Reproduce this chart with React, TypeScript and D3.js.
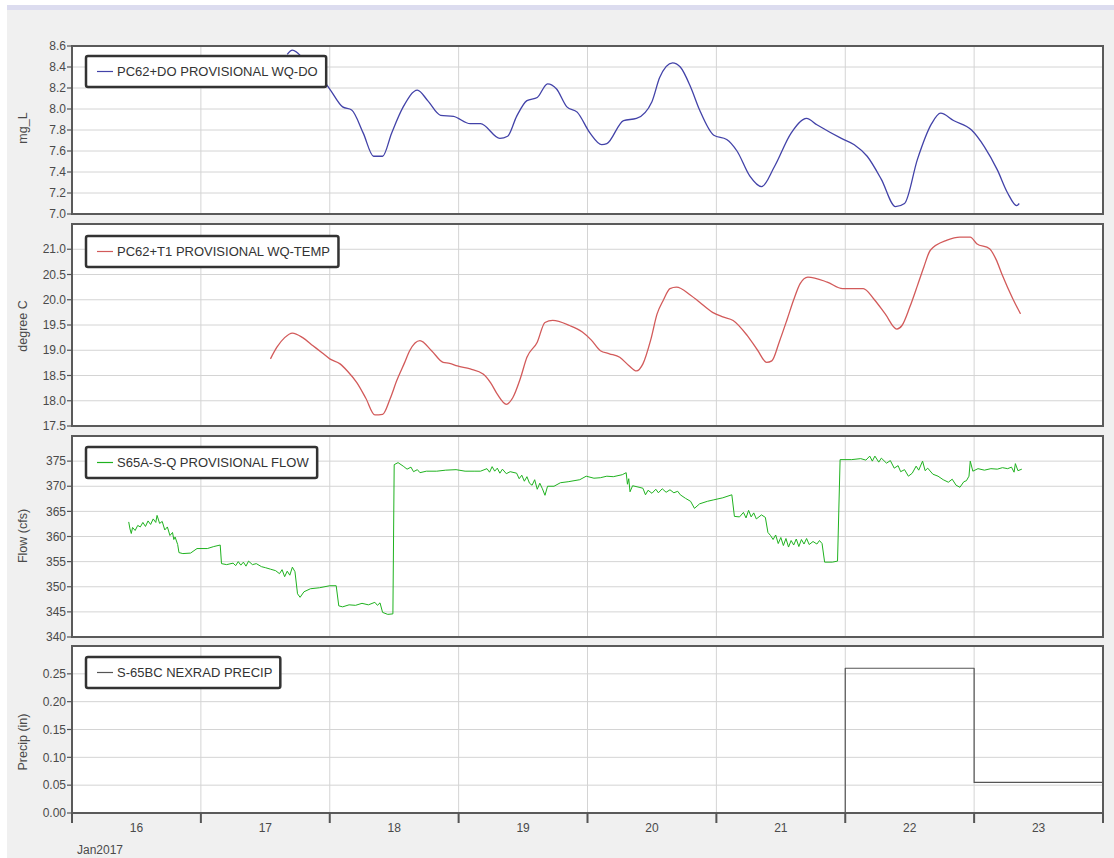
import * as d3 from "d3";

// time is given in fractional days of January 2017 (16.5 = Jan 16, noon)
const doSeries: [number, number][] = [
  [17.67, 8.52], [17.71, 8.56], [17.81, 8.46], [17.92, 8.32], [18.0, 8.19], [18.1, 8.02], [18.17, 7.99],
  [18.26, 7.77], [18.34, 7.55], [18.41, 7.55], [18.48, 7.77], [18.57, 8.02], [18.68, 8.18], [18.76, 8.08],
  [18.86, 7.94], [18.96, 7.93], [19.09, 7.86], [19.17, 7.86], [19.32, 7.72], [19.38, 7.74], [19.45, 7.93],
  [19.53, 8.08], [19.61, 8.11], [19.69, 8.24], [19.76, 8.19], [19.84, 8.02], [19.92, 7.97], [20.02, 7.77],
  [20.11, 7.66], [20.15, 7.67], [20.28, 7.89], [20.38, 7.91], [20.5, 8.07], [20.56, 8.3], [20.66, 8.44],
  [20.72, 8.4], [20.8, 8.21], [20.87, 7.99], [20.98, 7.75], [21.08, 7.71], [21.16, 7.6], [21.26, 7.36],
  [21.35, 7.26], [21.45, 7.45], [21.58, 7.77], [21.7, 7.91], [21.78, 7.85], [21.97, 7.72], [22.07, 7.66],
  [22.17, 7.55], [22.28, 7.33], [22.39, 7.07], [22.46, 7.1], [22.56, 7.52], [22.67, 7.86], [22.74, 7.96],
  [22.84, 7.89], [22.98, 7.8], [23.08, 7.64], [23.18, 7.42], [23.26, 7.2], [23.33, 7.08], [23.35, 7.1],
];

const tempSeries: [number, number][] = [
  [17.54, 18.83], [17.59, 19.06], [17.65, 19.25], [17.71, 19.34], [17.79, 19.25], [17.87, 19.09],
  [17.94, 18.95], [18.0, 18.83], [18.08, 18.73], [18.14, 18.58], [18.21, 18.36], [18.28, 18.05],
  [18.35, 17.72], [18.41, 17.73], [18.47, 18.05], [18.52, 18.4], [18.58, 18.75], [18.62, 18.99],
  [18.7, 19.19], [18.79, 18.99], [18.88, 18.76], [18.93, 18.74], [18.99, 18.69], [19.09, 18.63],
  [19.19, 18.53], [19.25, 18.35], [19.3, 18.13], [19.37, 17.93], [19.42, 18.06], [19.48, 18.45],
  [19.53, 18.86], [19.61, 19.16], [19.67, 19.55], [19.73, 19.59], [19.86, 19.49], [19.96, 19.36],
  [20.03, 19.2], [20.1, 18.99], [20.17, 18.93], [20.25, 18.86], [20.32, 18.7], [20.38, 18.59],
  [20.43, 18.73], [20.49, 19.2], [20.54, 19.72], [20.59, 20.0], [20.64, 20.22], [20.69, 20.25],
  [20.8, 20.09], [20.87, 19.95], [20.97, 19.75], [21.05, 19.66], [21.13, 19.59], [21.24, 19.29],
  [21.32, 19.0], [21.39, 18.76], [21.43, 18.79], [21.49, 19.18], [21.55, 19.62], [21.6, 20.0],
  [21.65, 20.32], [21.71, 20.45], [21.86, 20.35], [21.98, 20.22], [22.06, 20.22], [22.14, 20.22],
  [22.22, 20.02], [22.31, 19.72], [22.4, 19.42], [22.44, 19.49], [22.5, 19.85], [22.56, 20.28],
  [22.61, 20.65], [22.66, 20.98], [22.79, 21.18], [22.89, 21.24], [22.97, 21.24], [23.02, 21.11],
  [23.12, 21.01], [23.17, 20.8], [23.22, 20.48], [23.3, 20.02], [23.36, 19.72],
];

const flowSeries: [number, number][] = [
  [16.44, 362.9], [16.45, 361.5], [16.46, 360.6], [16.47, 361.8], [16.49, 361.2], [16.51, 362.2],
  [16.53, 361.9], [16.55, 362.8], [16.57, 362.0], [16.59, 363.1], [16.61, 362.4], [16.63, 363.5],
  [16.65, 362.8], [16.66, 364.2], [16.68, 362.6], [16.7, 363.0], [16.72, 361.3], [16.74, 361.9],
  [16.76, 360.2], [16.78, 360.8], [16.79, 359.4], [16.8, 359.9], [16.82, 358.4], [16.83, 356.8],
  [16.86, 356.6], [16.92, 356.7], [16.97, 357.6], [17.05, 357.6], [17.1, 358.0], [17.15, 358.3],
  [17.16, 354.6], [17.2, 354.4], [17.25, 354.7], [17.27, 354.2], [17.29, 355.0], [17.31, 354.3],
  [17.33, 354.9], [17.35, 354.1], [17.37, 355.1], [17.4, 354.4], [17.43, 354.6], [17.47, 354.0],
  [17.5, 353.8], [17.54, 353.5], [17.58, 353.2], [17.61, 352.6], [17.63, 353.4], [17.65, 352.0],
  [17.67, 353.1], [17.69, 352.3], [17.71, 353.9], [17.73, 353.0], [17.75, 348.6], [17.77, 347.9],
  [17.8, 349.0], [17.85, 349.6], [17.92, 349.8], [18.0, 350.2], [18.05, 350.2], [18.07, 346.2],
  [18.1, 346.0], [18.15, 346.4], [18.2, 346.3], [18.25, 346.7], [18.3, 346.4], [18.35, 346.9],
  [18.37, 346.3], [18.39, 346.8], [18.41, 344.9], [18.45, 344.5], [18.49, 344.6], [18.5, 374.3],
  [18.53, 374.7], [18.57, 374.0], [18.6, 373.4], [18.63, 373.8], [18.65, 372.9], [18.68, 373.3],
  [18.7, 372.7], [18.75, 373.0], [18.83, 373.0], [18.9, 373.2], [18.98, 373.3], [19.05, 373.0],
  [19.12, 373.0], [19.17, 373.0], [19.22, 373.5], [19.24, 372.8], [19.26, 373.9], [19.28, 373.0],
  [19.3, 373.6], [19.32, 372.6], [19.34, 373.4], [19.37, 372.5], [19.4, 372.9], [19.45, 372.6],
  [19.47, 371.5], [19.49, 372.2], [19.51, 371.0], [19.53, 371.9], [19.55, 370.6], [19.57, 370.2],
  [19.59, 371.3], [19.61, 369.4], [19.63, 370.6], [19.65, 369.5], [19.67, 368.2], [19.69, 370.0],
  [19.74, 370.0], [19.79, 370.7], [19.85, 370.9], [19.94, 371.3], [19.99, 372.0], [20.05, 371.6],
  [20.1, 371.7], [20.15, 372.0], [20.2, 371.9], [20.27, 372.3], [20.3, 372.7], [20.31, 370.4],
  [20.32, 371.5], [20.33, 368.9], [20.35, 370.1], [20.4, 369.8], [20.43, 369.6], [20.45, 368.3],
  [20.47, 369.2], [20.5, 368.6], [20.53, 369.4], [20.55, 368.7], [20.58, 369.5], [20.61, 368.8],
  [20.64, 369.3], [20.67, 368.7], [20.7, 369.0], [20.72, 368.3], [20.76, 367.6], [20.8, 367.0],
  [20.83, 365.6], [20.87, 366.5], [20.93, 367.0], [20.98, 367.3], [21.05, 367.7], [21.12, 368.3],
  [21.14, 364.0], [21.18, 363.9], [21.21, 364.8], [21.23, 363.7], [21.25, 365.2], [21.27, 363.9],
  [21.29, 364.7], [21.31, 363.5], [21.35, 364.3], [21.38, 363.8], [21.4, 360.8], [21.42, 360.2],
  [21.44, 359.4], [21.46, 360.3], [21.48, 358.6], [21.5, 359.8], [21.52, 358.2], [21.54, 359.6],
  [21.56, 357.9], [21.58, 359.2], [21.6, 358.3], [21.62, 359.5], [21.64, 358.0], [21.66, 359.4],
  [21.68, 358.5], [21.7, 359.6], [21.72, 358.4], [21.75, 359.0], [21.78, 358.5], [21.8, 359.2],
  [21.82, 358.6], [21.84, 354.9], [21.9, 354.9], [21.94, 355.1], [21.96, 375.3], [22.05, 375.3],
  [22.12, 375.5], [22.16, 375.2], [22.19, 376.0], [22.21, 375.0], [22.23, 376.0], [22.26, 374.8],
  [22.28, 375.6], [22.32, 374.6], [22.35, 375.1], [22.38, 373.6], [22.41, 374.1], [22.43, 372.9],
  [22.46, 373.3], [22.49, 372.0], [22.52, 372.6], [22.55, 374.0], [22.57, 373.2], [22.6, 375.0],
  [22.62, 373.1], [22.64, 373.6], [22.68, 372.4], [22.72, 372.0], [22.76, 371.3], [22.8, 370.8],
  [22.83, 371.4], [22.86, 370.2], [22.89, 369.8], [22.92, 370.9], [22.94, 371.1], [22.96, 372.0],
  [22.97, 375.0], [22.99, 373.0], [23.03, 373.5], [23.08, 373.2], [23.13, 373.5], [23.18, 373.4],
  [23.22, 373.7], [23.26, 373.5], [23.29, 373.8], [23.31, 372.8], [23.32, 374.5], [23.34, 373.1],
  [23.37, 373.4],
];

// daily NEXRAD totals (inches), step held until next day
const precipDays = [16, 17, 18, 19, 20, 21, 22, 23, 24];
const precipValues = [0, 0, 0, 0, 0, 0, 0.26, 0.055, 0.055];

const doTicks = [7.0, 7.2, 7.4, 7.6, 7.8, 8.0, 8.2, 8.4, 8.6];
const tempTicks = [17.5, 18.0, 18.5, 19.0, 19.5, 20.0, 20.5, 21.0];
const flowTicks = [340, 345, 350, 355, 360, 365, 370, 375];
const precipTicks = [0, 0.05, 0.1, 0.15, 0.2, 0.25];

const W = 1114;
const H = 858;
const left = 72;
const right = 1103;
const FONT = "'Liberation Sans', Arial, sans-serif";

const dayToDate = (d: number) => new Date(Date.UTC(2017, 0, 16) + (d - 16) * 864e5);

const measure = (s: string, size: number) => {
  const ctx = document.createElement("canvas").getContext("2d");
  if (!ctx) return s.length * size * 0.6;
  ctx.font = `${size}px ${FONT}`;
  return ctx.measureText(s).width;
};

const panels = [
  { title: "mg_L", titleY: 128, top: 46, bottom: 214, domain: [7.0, 8.6], ticks: doTicks, fmt: d3.format(".1f"),
    legend: "PC62+DO PROVISIONAL WQ-DO", legendTop: 56, color: "#4242a8", width: 1.3,
    data: doSeries.map((p) => ({ t: p[0], v: p[1] })), curve: d3.curveMonotoneX },
  { title: "degree C", titleY: 326, top: 224, bottom: 426, domain: [17.5, 21.5], ticks: tempTicks, fmt: d3.format(".1f"),
    legend: "PC62+T1 PROVISIONAL WQ-TEMP", legendTop: 236, color: "#d25a5a", width: 1.3,
    data: tempSeries.map((p) => ({ t: p[0], v: p[1] })), curve: d3.curveMonotoneX },
  { title: "Flow (cfs)", titleY: 536, top: 436, bottom: 637, domain: [340, 380], ticks: flowTicks, fmt: d3.format("d"),
    legend: "S65A-S-Q PROVISIONAL FLOW", legendTop: 447, color: "#1fb21f", width: 1,
    data: flowSeries.map((p) => ({ t: p[0], v: p[1] })), curve: d3.curveLinear },
  { title: "Precip (in)", titleY: 742, top: 646, bottom: 813, domain: [0, 0.3], ticks: precipTicks, fmt: d3.format(".2f"),
    legend: "S-65BC NEXRAD PRECIP", legendTop: 657, color: "#555555", width: 1.2,
    data: precipDays.map((d, i) => ({ t: d, v: precipValues[i] })), curve: d3.curveStepAfter },
];

export default function App() {
  const x = d3.scaleUtc().domain([dayToDate(16), dayToDate(24)]).range([left, right]);
  const dayTicks = d3.utcDay.range(dayToDate(16), dayToDate(24.5));
  const dayLabels = d3.range(16, 24).map((d) => dayToDate(d + 0.5));
  const fmtDay = d3.utcFormat("%-d");

  return (
    <svg width={W} height={H} style={{ position: "absolute", left: 0, top: 0, fontFamily: FONT }}>
      <rect x={0} y={0} width={W} height={H} fill="#ffffff" />
      <rect x={7} y={5} width={W - 7} height={5} fill="#dcdcef" />
      <rect x={7} y={10} width={W - 7} height={H - 10} fill="#f0f0f0" />

      {panels.map((p, pi) => {
        const y = d3.scaleLinear().domain(p.domain).range([p.bottom, p.top]);
        const line = d3
          .line<{ t: number; v: number }>()
          .x((d) => x(dayToDate(d.t)))
          .y((d) => y(d.v))
          .curve(p.curve);
        const tw = measure(p.legend, 13);
        const lx = 86;
        return (
          <g key={pi}>
            <rect x={left} y={p.top} width={right - left} height={p.bottom - p.top} fill="#ffffff" />
            {p.ticks.map((t) => (
              <line key={"h" + t} x1={left} x2={right} y1={y(t)} y2={y(t)} stroke="#d4d4d4" strokeWidth={1} />
            ))}
            {dayTicks.slice(1, -1).map((d, i) => (
              <line key={"v" + i} x1={x(d)} x2={x(d)} y1={p.top} y2={p.bottom} stroke="#d4d4d4" strokeWidth={1} />
            ))}
            <g clipPath={`url(#clip${pi})`}>
              <clipPath id={`clip${pi}`}>
                <rect x={left} y={p.top} width={right - left} height={p.bottom - p.top} />
              </clipPath>
              <path d={line(p.data) ?? ""} fill="none" stroke={p.color} strokeWidth={p.width} strokeLinejoin="round" />
            </g>
            <rect x={left} y={p.top} width={right - left} height={p.bottom - p.top} fill="none" stroke="#5a5a5a" strokeWidth={2} />
            {p.ticks.map((t) => (
              <g key={"t" + t}>
                <line x1={left - 5} x2={left} y1={y(t)} y2={y(t)} stroke="#555" strokeWidth={1.2} />
                <text x={left - 6} y={y(t)} dy="0.35em" textAnchor="end" fontSize={12} fill="#4a4a4a">
                  {p.fmt(t)}
                </text>
              </g>
            ))}
            <text
              transform={`translate(27,${p.titleY}) rotate(-90)`}
              textAnchor="middle"
              fontSize={12.5}
              fill="#4a4a4a"
            >
              {p.title}
            </text>
            <rect x={lx} y={p.legendTop} width={tw + 39} height={31} rx={2} fill="#ffffff" stroke="#333333" strokeWidth={2.5} />
            <line x1={lx + 11} x2={lx + 27} y1={p.legendTop + 15.5} y2={p.legendTop + 15.5} stroke={p.color} strokeWidth={1.2} />
            <text x={lx + 31} y={p.legendTop + 15.5} dy="0.35em" fontSize={13} fill="#333333">
              {p.legend}
            </text>
          </g>
        );
      })}

      {dayTicks.map((d, i) => (
        <line key={"xt" + i} x1={x(d)} x2={x(d)} y1={813} y2={823} stroke="#555" strokeWidth={2} />
      ))}
      {dayLabels.map((d, i) => (
        <text key={"xl" + i} x={x(d)} y={832} textAnchor="middle" fontSize={12} fill="#4a4a4a">
          {fmtDay(d)}
        </text>
      ))}
      <text x={77} y={854} fontSize={12} fill="#4a4a4a">
        Jan2017
      </text>
    </svg>
  );
}
